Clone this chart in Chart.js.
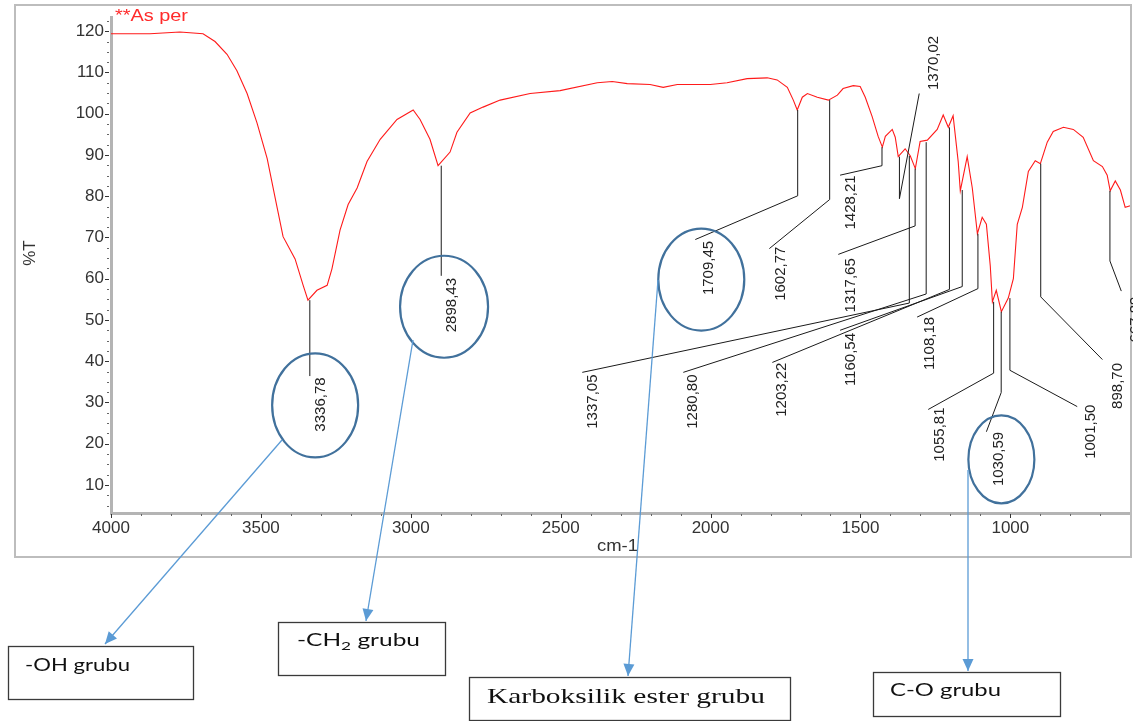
<!DOCTYPE html>
<html>
<head>
<meta charset="utf-8">
<script src="https://cdn.jsdelivr.net/npm/chart.js@4.4.0/dist/chart.umd.min.js"></script>
<style>
  html, body { margin: 0; padding: 0; background: #fff; }
  #wrap { width: 1135px; height: 721px; }
</style>
</head>
<body>
<div id="wrap"><canvas id="ftir" width="1135" height="721"></canvas></div>
<script>
// spectrum (cm-1, %T)
const wavenumber = [4000,3997,3870,3770,3693,3653,3613,3580,3546,3513,3479,
  3446,3426,3386,3359,3343,3313,3279,3263,3236,3209,
  3179,3146,3102,3046,2992,2969,2936,2909,2869,2846,
  2802,2759,2702,2602,2502,2378,2328,2278,2202,2158,
  2111,2001,1945,1878,1811,1778,1744,1724,1711,1694,
  1677,1644,1607,1577,1558,1524,1501,1484,1461,1441,
  1427,1417,1394,1384,1374,1351,1334,1317,1301,1277,
  1244,1224,1207,1191,1174,1167,1144,1127,1110,1094,
  1080,1067,1060,1047,1030,1007,990,977,960,940,
  917,900,877,857,823,790,757,723,693,677,
  667,650,633,617,600];
const transmittance = [119.4,119.4,119.4,119.8,119.4,117.5,114.4,110.4,104.9,97.8,89.1,
  77.3,70.2,64.8,58.4,54.8,57.2,58.4,62.4,71.8,78.0,
  82.0,88.4,93.8,98.6,100.9,98.6,93.8,87.4,90.7,95.5,
  100.2,101.6,103.3,104.9,105.6,107.5,107.8,107.3,107.1,106.4,
  107.1,107.1,107.5,108.5,108.7,108.2,106.4,103.3,100.9,104.0,
  104.9,104.0,103.3,104.5,106.1,106.8,106.6,104.0,99.3,94.5,
  91.9,94.5,96.2,94.3,89.6,91.5,89.8,86.7,93.3,93.6,
  96.2,99.7,96.7,99.5,88.4,81.3,89.6,82.0,70.9,74.9,
  73.2,63.1,54.4,57.2,52.0,55.3,60.0,73.2,77.3,86.0,
  88.6,87.9,93.1,95.7,96.7,96.2,94.3,88.6,87.2,85.1,
  81.3,83.7,81.5,77.3,77.7];

// peak picks
const peakLabels = ['3336,78','2898,43','1709,45','1602,77','1428,21','1370,02','1337,05','1317,65','1280,80',
  '1203,22','1160,54','1108,18','1055,81','1030,59','1001,50','898,70','667,89'];
const peakWn = [3336.78,2898.43,1709.45,1602.77,1428.21,1370.02,1337.05,1317.65,1280.80,
  1203.22,1160.54,1108.18,1055.81,1030.59,1001.50,898.70,667.89];
const peakT = [54.8,87.4,100.9,103.3,91.9,89.6,89.8,86.7,93.1,96.7,81.5,70.9,54.4,52.0,55.3,87.9,81.3];

// axis ticks
const xTicks = [];
for (let v = 600; v <= 4000; v += 100) xTicks.push(v);
const yTicks = [];
for (let v = 5; v <= 122.5; v += 2.5) yTicks.push(v);

// leader layout, in chart units: where the vertical stops, where the slanted part ends, where the label sits
const leaderBendT = [36.4,60.7,80.1,79.2,87.4,79.4,54.1,72.8,56.3,57.4,58.1,57.6,37.1,32.4,37.8,55.6,64.3];
const leaderEnd = [null,null,[2051,69.5],[1804,67.3],[1568,85.1],[1304,104.9],[2428,37.3],[1574,65.9],[2091,37.3],
  [1794,39.7],[1568,47.5],[1311,50.7],[1274,28.3],[1080,22.9],[777,29.0],[693,40.4],[630,57.0]];
const labelPos = [[3299,29.5],[2862,53.6],[2005,62.6],[1764,61.2],[1531,78.5],[1254,112.3],[2392,30.2],[1531,58.4],[2058,30.2],
  [1761,33.1],[1531,40.4],[1267,44.3],[1234,22.2],[1040,16.3],[733,22.9],[643,34.0],[583,50.1]];
// circled labels: centre (cm-1, %T), radii in px
const circles = [[3319,29.3,43,52],[2889,53.2,44,51],[2031,59.8,43,51],[1030,16.2,33,44]];

// group boxes under the frame (px)
const groupBoxes = [
  {text:'-OH grubu', box:[8,646,185,53], tx:25, ty:666, tw:105, from:[282,440], to:[105,644]},
  {text:'-CH2 grubu', box:[278,622,167,53], tx:297, ty:641, tw:123, from:[413,340], to:[366,621]},
  {text:'Karboksilik ester grubu', box:[469,677,321,43], tx:487, ty:697, tw:278, from:[658,280], to:[628,676], serif:true},
  {text:'C-O grubu', box:[873,672,187,44], tx:890, ty:691, tw:111, from:[968,470], to:[968,671]}
];

function fitText(ctx, text, x, y, width, font, color) {
  ctx.save();
  ctx.font = font; ctx.fillStyle = color;
  ctx.textAlign = 'left'; ctx.textBaseline = 'middle';
  const w = ctx.measureText(text).width;
  ctx.translate(x, y); ctx.scale(width / w, 1);
  ctx.fillText(text, 0, 0);
  ctx.restore();
}

function arrow(ctx, a, b) {
  ctx.beginPath(); ctx.moveTo(a[0], a[1]); ctx.lineTo(b[0], b[1]); ctx.stroke();
  const ang = Math.atan2(b[1] - a[1], b[0] - a[0]);
  const L = 12, W = 5.5;
  ctx.beginPath();
  ctx.moveTo(b[0], b[1]);
  ctx.lineTo(b[0] - L * Math.cos(ang) + W * Math.sin(ang), b[1] - L * Math.sin(ang) - W * Math.cos(ang));
  ctx.lineTo(b[0] - L * Math.cos(ang) - W * Math.sin(ang), b[1] - L * Math.sin(ang) + W * Math.cos(ang));
  ctx.closePath(); ctx.fill();
}

const annotations = {
  id: 'annotations',
  afterDraw(chart) {
    const ctx = chart.ctx;
    const x = chart.scales.x, y = chart.scales.y;
    const px = v => x.getPixelForValue(v), py = v => y.getPixelForValue(v);
    const area = chart.chartArea;

    ctx.save();
    // tick marks
    ctx.lineWidth = 1;
    xTicks.forEach(v => {
      const major = v % 500 === 0;
      const X = Math.round(px(v)) + 0.5;
      ctx.strokeStyle = major ? '#333' : '#666';
      ctx.beginPath(); ctx.moveTo(X, area.bottom + 1); ctx.lineTo(X, area.bottom + (major ? 5 : 3)); ctx.stroke();
    });
    yTicks.forEach(v => {
      const major = v % 10 === 0;
      const Y = Math.round(py(v)) + 0.5;
      ctx.strokeStyle = major ? '#333' : '#666';
      ctx.beginPath(); ctx.moveTo(area.left - 2, Y); ctx.lineTo(area.left - (major ? 6 : 4), Y); ctx.stroke();
    });

    // outer frame
    ctx.strokeStyle = '#bdbdbd'; ctx.lineWidth = 2;
    ctx.strokeRect(15, 5, 1116, 552);

    // axis titles
    ctx.fillStyle = '#333';
    ctx.font = '17px "Liberation Sans", Arial, sans-serif';
    ctx.save();
    ctx.translate(30, 253); ctx.rotate(-Math.PI / 2);
    ctx.textAlign = 'center'; ctx.textBaseline = 'middle';
    ctx.fillText('%T', 0, 0);
    ctx.restore();
    fitText(ctx, 'cm-1', 597, 546, 41, '17px "Liberation Sans", Arial, sans-serif', '#333');
    fitText(ctx, '**As per', 115, 17, 73, '16px "Liberation Sans", Arial, sans-serif', '#ff2a2a');

    // peak leaders and labels
    ctx.save();
    ctx.beginPath(); ctx.rect(15, 5, 1118, 552); ctx.clip();
    ctx.strokeStyle = '#1a1a1a'; ctx.lineWidth = 1;
    peakWn.forEach((w, i) => {
      const X = px(w);
      ctx.beginPath();
      ctx.moveTo(X, py(peakT[i]));
      ctx.lineTo(X, py(leaderBendT[i]));
      if (leaderEnd[i]) ctx.lineTo(px(leaderEnd[i][0]), py(leaderEnd[i][1]));
      ctx.stroke();
    });
    ctx.fillStyle = '#222';
    ctx.font = '15px "Liberation Sans", Arial, sans-serif';
    ctx.textAlign = 'center'; ctx.textBaseline = 'middle';
    peakLabels.forEach((t, i) => {
      ctx.save();
      ctx.translate(px(labelPos[i][0]), py(labelPos[i][1]));
      ctx.rotate(-Math.PI / 2);
      ctx.fillText(t, 0, 0);
      ctx.restore();
    });
    ctx.restore();

    // circled peaks
    ctx.strokeStyle = '#41719c'; ctx.lineWidth = 2.2;
    circles.forEach(c => {
      ctx.beginPath();
      ctx.ellipse(px(c[0]), py(c[1]), c[2], c[3], 0, 0, Math.PI * 2);
      ctx.stroke();
    });

    // arrows and group boxes
    ctx.strokeStyle = '#5b9bd5'; ctx.fillStyle = '#5b9bd5'; ctx.lineWidth = 1.3;
    groupBoxes.forEach(g => arrow(ctx, g.from, g.to));
    groupBoxes.forEach(g => {
      ctx.strokeStyle = '#3a3a3a'; ctx.lineWidth = 1.3;
      ctx.strokeRect(g.box[0] + 0.5, g.box[1] + 0.5, g.box[2], g.box[3]);
      if (g.serif) {
        fitText(ctx, g.text, g.tx, g.ty, g.tw, '21px "Liberation Serif", "Times New Roman", serif', '#111');
      } else if (g.text === '-CH2 grubu') {
        const big = '17px Lato, "Open Sans", sans-serif', small = '12px Lato, "Open Sans", sans-serif';
        const parts = [['-CH', big, 0], ['2', small, 5], [' grubu', big, 0]];
        let total = 0;
        parts.forEach(p => { ctx.font = p[1]; total += ctx.measureText(p[0]).width; });
        ctx.save();
        ctx.fillStyle = '#111'; ctx.textBaseline = 'middle'; ctx.textAlign = 'left';
        ctx.translate(g.tx, g.ty); ctx.scale(g.tw / total, 1);
        let cx = 0;
        parts.forEach(p => { ctx.font = p[1]; ctx.fillText(p[0], cx, p[2]); cx += ctx.measureText(p[0]).width; });
        ctx.restore();
      } else {
        fitText(ctx, g.text, g.tx, g.ty, g.tw, '17px Lato, "Open Sans", sans-serif', '#111');
      }
    });
    ctx.restore();
  }
};

new Chart(document.getElementById('ftir'), {
  type: 'line',
  data: {
    datasets: [{
      data: wavenumber.map((w, i) => ({x: w, y: transmittance[i]})),
      borderColor: '#ff1a1a',
      borderWidth: 1.1,
      pointRadius: 0,
      tension: 0,
      fill: false
    }]
  },
  options: {
    responsive: false,
    animation: false,
    events: [],
    layout: {padding: {left: 0, top: 5, right: 4, bottom: 163}},
    plugins: {legend: {display: false}, tooltip: {enabled: false}},
    scales: {
      x: {
        type: 'linear', reverse: true, min: 597.6, max: 4000,
        afterBuildTicks: s => { s.ticks = xTicks.map(v => ({value: v})); },
        afterFit: s => { s.height = 45; },
        grid: {display: true, drawOnChartArea: false, drawTicks: false},
        border: {color: '#b4b4b4', width: 3},
        ticks: {
          autoSkip: false, maxRotation: 0, padding: 5, color: '#333',
          font: {family: '"Liberation Sans", Arial, sans-serif', size: 17},
          callback: v => (v % 500 === 0 ? String(v) : '')
        }
      },
      y: {
        type: 'linear', min: 3.2, max: 123.4,
        afterBuildTicks: s => { s.ticks = yTicks.map(v => ({value: v})); },
        afterFit: s => { s.width = 111; },
        grid: {display: true, drawOnChartArea: false, drawTicks: false},
        border: {color: '#b4b4b4', width: 3},
        ticks: {
          autoSkip: false, padding: 7, color: '#333',
          font: {family: '"Liberation Sans", Arial, sans-serif', size: 17},
          callback: v => (v % 10 === 0 ? String(v) : '')
        }
      }
    }
  },
  plugins: [annotations]
});
</script>
</body>
</html>
